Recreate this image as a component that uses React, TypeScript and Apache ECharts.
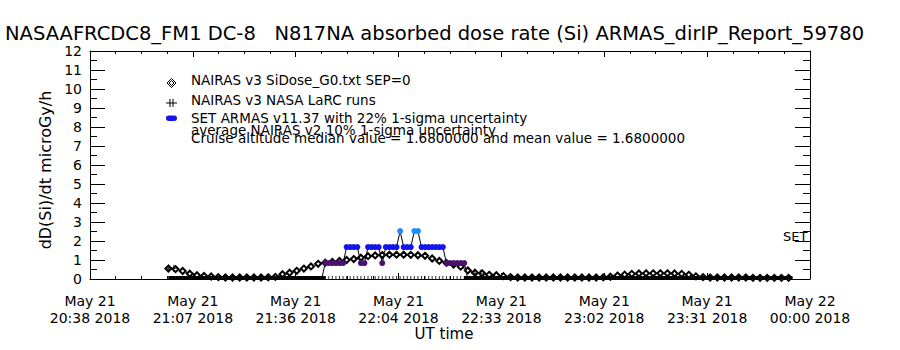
import React, { useEffect, useRef } from "react";
import * as echarts from "echarts";

const FONT = "DejaVu Sans";

const titleText =
  "NASAAFRCDC8_FM1 DC-8   N817NA absorbed dose rate (Si) ARMAS_dirIP_Report_59780";
const yAxisTitle = "dD(Si)/dt microGy/h";
const xAxisTitle = "UT time";
const sideLabel = "SET";

const xTickDates = ["May 21", "May 21", "May 21", "May 21", "May 21", "May 21", "May 21", "May 22"];
const xTickTimes = [
  "20:38 2018", "21:07 2018", "21:36 2018", "22:04 2018",
  "22:33 2018", "23:02 2018", "23:31 2018", "00:00 2018",
];
// x values are minutes after 20:38 UT
const xSpanMinutes = 202;
const xIntervals = 7;
const yMin = 0;
const yMax = 12;

const legendLines = [
  "NAIRAS v3 SiDose_G0.txt SEP=0",
  "NAIRAS v3 NASA LaRC runs",
  "SET ARMAS v11.37 with 22% 1-sigma uncertainty",
  "average NAIRAS v2 10% 1-sigma uncertainty",
  "Cruise altitude median value = 1.6800000 and mean value = 1.6800000",
];

// NAIRAS v3 SiDose_G0 [minute, dose rate]
const nairasG0: [number, number][] = [
  [22, 0.55], [24, 0.52], [26, 0.42], [28, 0.28], [30, 0.2], [32, 0.16], [34, 0.13], [36, 0.1],
  [38, 0.08], [40, 0.08], [42, 0.08], [44, 0.08], [46, 0.08], [48, 0.08], [50, 0.09], [52, 0.11],
  [54, 0.25], [56, 0.33], [58, 0.43], [60, 0.55], [62, 0.66], [64, 0.8], [66, 0.86], [68, 0.9],
  [70, 0.95], [72, 1.0], [74, 1.05], [76, 1.12], [78, 1.2], [80, 1.24], [82, 1.26], [84, 1.28],
  [86, 1.28], [88, 1.28], [90, 1.27], [92, 1.25], [94, 1.22], [96, 1.08], [98, 0.95], [100, 0.85],
  [102, 0.76], [104, 0.65], [106, 0.45], [108, 0.33], [110, 0.3], [112, 0.22], [114, 0.2], [116, 0.15],
  [118, 0.1], [120, 0.08], [122, 0.08], [124, 0.08], [126, 0.08], [128, 0.08], [130, 0.08], [132, 0.08],
  [134, 0.08], [136, 0.08], [138, 0.08], [140, 0.08], [142, 0.08], [144, 0.09], [146, 0.12], [148, 0.18],
  [150, 0.23], [152, 0.27], [154, 0.29], [156, 0.3], [158, 0.3], [160, 0.3], [162, 0.3], [164, 0.29],
  [166, 0.27], [168, 0.22], [170, 0.14], [172, 0.1], [174, 0.08], [176, 0.08], [178, 0.08], [180, 0.08],
  [182, 0.08], [184, 0.08], [186, 0.06], [188, 0.06], [190, 0.06], [192, 0.06], [194, 0.06], [196, 0.06],
];

// NAIRAS v3 NASA LaRC runs [minute, dose rate]
const larcRuns: [number, number][] = [
  [22, 0.57], [23.5, 0.57], [108, 0.3], [109.5, 0.3],
  [65, 0], [66, 0], [67, 0], [68, 0], [69, 0], [70, 0], [71, 0], [72, 0], [73, 0], [74, 0],
  [75, 0], [76, 0], [77, 0], [78, 0], [79, 0], [80, 0], [81, 0], [82, 0], [83, 0], [84, 0],
  [85, 0], [86, 0], [87, 0], [88, 0], [89, 0], [90, 0], [91, 0], [92, 0], [93, 0], [94, 0],
  [95, 0], [96, 0], [97, 0], [98, 0], [99, 0], [100, 0], [101, 0], [102, 0], [103, 0], [104, 0],
  [105, 0],
];

// SET ARMAS v11.37 [minute, dose rate]
const armasSET: [number, number][] = [
  [23, 0], [25, 0], [27, 0], [29, 0], [31, 0], [33, 0], [35, 0], [37, 0], [39, 0], [41, 0], [43, 0],
  [45, 0], [47, 0], [49, 0], [51, 0], [53, 0], [55, 0], [57, 0], [59, 0], [61, 0], [63, 0], [65, 0],
  [66, 0.84], [67, 0.84], [68, 0.84], [69, 0.84], [70, 0.84], [71, 0.84],
  [72, 1.68], [73, 1.68], [74, 1.68], [75, 1.68],
  [76, 0.84], [77, 0.84],
  [78, 1.68], [79, 1.68], [80, 1.68], [81, 1.68],
  [82, 0.84],
  [83, 1.68], [84, 1.68], [85, 1.68], [86, 1.68],
  [87, 2.52],
  [88, 1.68], [89, 1.68], [90, 1.68],
  [91, 2.52], [92, 2.52],
  [93, 1.68], [94, 1.68], [95, 1.68], [96, 1.68], [97, 1.68], [98, 1.68], [99, 1.68],
  [100, 0.84], [101, 0.84], [102, 0.84], [103, 0.84], [104, 0.84], [105, 0.84],
  [106, 0], [108, 0], [110, 0], [112, 0], [114, 0], [116, 0], [118, 0], [120, 0], [122, 0], [124, 0],
  [126, 0], [128, 0], [130, 0], [132, 0], [134, 0], [136, 0], [138, 0], [140, 0], [142, 0], [144, 0],
  [146, 0], [148, 0], [150, 0], [152, 0], [154, 0], [156, 0], [158, 0], [160, 0], [162, 0], [164, 0],
  [166, 0], [168, 0], [170, 0], [172, 0], [174, 0], [176, 0], [178, 0], [180, 0], [182, 0], [184, 0],
  [186, 0], [188, 0], [190, 0], [192, 0], [194, 0], [196, 0],
];

const PLUS = "path://M0,4.3H10V5.7H0ZM4.3,0H5.7V10H4.3Z";

function armasColor(v: number): string {
  if (v <= 0) return "#000000";
  if (v < 1.2) return "#4a1270";
  if (v < 2.1) return "#1414ee";
  return "#1e8cff";
}

function buildOption(): any {
  const interval = xSpanMinutes / xIntervals;
  const axisLine = { show: true, onZero: false, lineStyle: { color: "#000", width: 1 } };
  const xCommon = {
    type: "value",
    min: 0,
    max: xSpanMinutes,
    interval,
    axisLine,
    axisTick: { show: true, inside: true, length: 6, lineStyle: { color: "#000", width: 1 } },
    minorTick: { show: true, splitNumber: 4, length: 3, lineStyle: { color: "#000", width: 1 } },
    splitLine: { show: false },
  };
  const yCommon = {
    type: "value",
    min: yMin,
    max: yMax,
    interval: 1,
    axisLine,
    axisTick: { show: true, inside: true, length: 15, lineStyle: { color: "#000", width: 1 } },
    minorTick: { show: true, splitNumber: 2, length: 7, lineStyle: { color: "#000", width: 1 } },
    splitLine: { show: false },
  };
  const txt = (x: number, y: number, text: string, size: number, extra: any = {}) => ({
    type: "text",
    x,
    y,
    silent: true,
    ...extra,
    style: {
      text,
      fill: "#000",
      font: `${size}px '${FONT}'`,
      textVerticalAlign: "middle",
      verticalAlign: "middle",
      textAlign: extra.align || "left",
      align: extra.align || "left",
    },
  });
  const legendY = [80, 99.5, 118, 130, 137.5];

  return {
    animation: false,
    backgroundColor: "#ffffff",
    textStyle: { fontFamily: FONT },
    grid: { left: 90, right: 90, top: 51, bottom: 71, containLabel: false },
    xAxis: [
      {
        ...xCommon,
        position: "bottom",
        axisLabel: {
          show: true,
          margin: 13,
          color: "#000",
          fontFamily: FONT,
          fontSize: 14,
          lineHeight: 17,
          formatter: (v: number) => {
            const i = Math.round(v / interval);
            return `${xTickDates[i]}\n${xTickTimes[i]}`;
          },
        },
      },
      { ...xCommon, position: "top", axisLabel: { show: false } },
    ],
    yAxis: [
      {
        ...yCommon,
        position: "left",
        axisLabel: { show: true, margin: 8, color: "#000", fontFamily: FONT, fontSize: 14 },
      },
      { ...yCommon, position: "right", axisLabel: { show: false } },
    ],
    series: [
      {
        name: legendLines[0],
        type: "line",
        xAxisIndex: 0,
        yAxisIndex: 0,
        data: nairasG0,
        symbol: "emptyDiamond",
        symbolSize: 6,
        showAllSymbol: true,
        lineStyle: { color: "#000", width: 0.8 },
        itemStyle: { color: "#000", borderColor: "#000", borderWidth: 0.6 },
        z: 2,
      },
      {
        name: legendLines[2],
        type: "line",
        xAxisIndex: 0,
        yAxisIndex: 0,
        showAllSymbol: true,
        data: armasSET.map(([t, v]) =>
          v === 0
            ? {
                value: [t, v],
                symbol: "rect",
                symbolSize: [7.5, 3],
                symbolOffset: [0, -1.5],
                itemStyle: { color: armasColor(v) },
              }
            : { value: [t, v], symbol: "circle", symbolSize: 6, itemStyle: { color: armasColor(v) } }
        ),
        lineStyle: { color: "#000", width: 1 },
        z: 4,
      },
      {
        name: legendLines[1],
        type: "scatter",
        xAxisIndex: 0,
        yAxisIndex: 0,
        data: larcRuns.map(([t, v]) =>
          v === 0
            ? { value: [t, v], symbol: "rect", symbolSize: [1, 3], symbolOffset: [0, -1.5] }
            : { value: [t, v], symbol: PLUS, symbolSize: 7 }
        ),
        itemStyle: { color: "#000" },
        z: 5,
      },
    ],
    graphic: [
      txt(5, 33, titleText, 19.5),
      txt(45, 170, yAxisTitle, 16, { rotation: Math.PI / 2, align: "center" }),
      txt(444, 334, xAxisTitle, 15, { align: "center" }),
      txt(783, 236, sideLabel, 13),
      ...legendLines.map((line, i) => txt(191, legendY[i], line, 13.5)),
      {
        type: "polygon",
        silent: true,
        shape: { points: [[167, 83], [171.5, 78.5], [176, 83], [171.5, 87.5]] },
        style: { fill: "none", stroke: "#000", lineWidth: 1 },
      },
      {
        type: "polygon",
        silent: true,
        shape: { points: [[169, 83], [171.5, 80.5], [174, 83], [171.5, 85.5]] },
        style: { fill: "none", stroke: "#000", lineWidth: 1 },
      },
      { type: "line", silent: true, shape: { x1: 166, y1: 103, x2: 177, y2: 103 }, style: { stroke: "#000", lineWidth: 1 } },
      { type: "line", silent: true, shape: { x1: 170, y1: 99, x2: 170, y2: 107 }, style: { stroke: "#000", lineWidth: 1 } },
      { type: "line", silent: true, shape: { x1: 173, y1: 99, x2: 173, y2: 107 }, style: { stroke: "#000", lineWidth: 1 } },
      {
        type: "rect",
        silent: true,
        shape: { x: 166, y: 115.5, width: 11, height: 5.5, r: 2.7 },
        style: { fill: "#1414ee" },
      },
    ],
  };
}

export default function App() {
  const ref = useRef<HTMLDivElement>(null);
  useEffect(() => {
    if (!ref.current) return;
    const chart = echarts.init(ref.current, undefined, { renderer: "svg" });
    chart.setOption(buildOption());
    return () => chart.dispose();
  }, []);
  return (
    <div
      ref={ref}
      style={{ position: "fixed", left: 0, top: 0, width: 900, height: 350, background: "#fff" }}
    />
  );
}
